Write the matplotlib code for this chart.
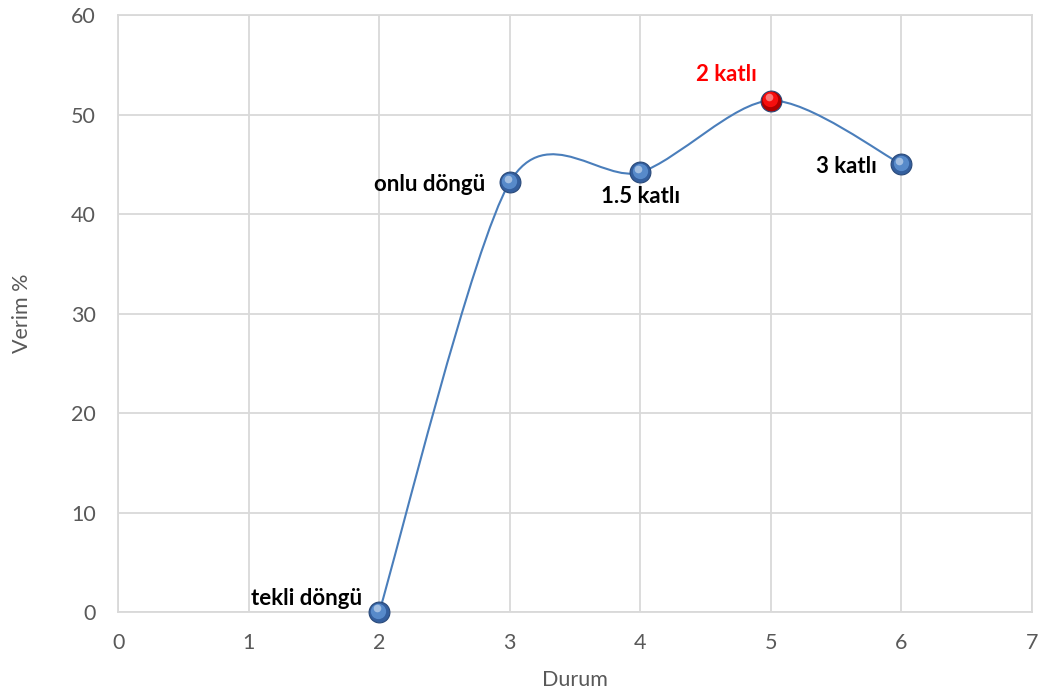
import matplotlib
matplotlib.use("Agg")
import matplotlib.pyplot as plt
import numpy as np
from matplotlib.path import Path
from matplotlib.patches import PathPatch
from matplotlib.transforms import offset_copy

# Data
durum = [2, 3, 4, 5, 6]
verim = [0.0, 43.2, 44.2, 51.4, 45.0]
labels = ["tekli döngü", "onlu döngü", "1.5 katlı", "2 katlı", "3 katlı"]
highlight = 3  # index of the red point

plt.rcParams['font.family'] = ['Lato', 'DejaVu Sans']

fig = plt.figure(figsize=(10.45, 6.95), dpi=100)
ax = fig.add_axes([0.113, 0.1194, 0.8746, 0.8590])

grid_c = "#d9d9d9"
ax.set_xlim(0, 7)
ax.set_ylim(0, 60)
ax.set_xticks(range(0, 8))
ax.set_yticks(range(0, 61, 10))
ax.grid(True, color=grid_c, linewidth=1.3)
ax.set_axisbelow(True)
for s in ax.spines.values():
    s.set_color(grid_c)
    s.set_linewidth(1.3)
ax.tick_params(length=0, colors="#595959", labelsize=15.5)
ax.tick_params(axis="x", pad=15)
ax.tick_params(axis="y", pad=16)
ax.set_xlabel("Durum", color="#595959", fontsize=15.5, labelpad=12)
ax.set_ylabel("Verim %", color="#595959", fontsize=15.5, labelpad=28)

# Smoothed line (cubic Bezier segments with Catmull-Rom style tangents)
pts = np.column_stack([durum, verim]).astype(float)
n = len(pts)
verts = [tuple(pts[0])]
codes = [Path.MOVETO]
k = 7.0
for i in range(n - 1):
    p0 = pts[i - 1] if i > 0 else pts[i]
    p1 = pts[i]
    p2 = pts[i + 1]
    p3 = pts[i + 2] if i + 2 < n else pts[i + 1]
    c1 = p1 + (p2 - p0) / k
    c2 = p2 - (p3 - p1) / k
    verts += [tuple(c1), tuple(c2), tuple(p2)]
    codes += [Path.CURVE4] * 3
ax.add_patch(PathPatch(Path(verts, codes), facecolor="none",
                       edgecolor="#4a7ebb", linewidth=1.5, zorder=3))

# Sphere-like markers
face = ["#b00000" if i == highlight else "#345f9e" for i in range(n)]
mid = ["#ff1010" if i == highlight else "#5b8fd0" for i in range(n)]
for i in range(n):
    ax.plot(durum[i], verim[i], "o", ms=15, mfc=face[i], mec="#2a4a7a",
            mew=0.8, zorder=4, clip_on=False)
    tr = offset_copy(ax.transData, fig=fig, x=-0.6, y=1.0, units="points")
    ax.plot(durum[i], verim[i], "o", ms=11, mfc=mid[i], mec="none",
            zorder=5, transform=tr, alpha=0.9, clip_on=False)
    tr2 = offset_copy(ax.transData, fig=fig, x=-1.5, y=2.6, units="points")
    ax.plot(durum[i], verim[i], "o", ms=5.5, mfc="white", mec="none",
            zorder=6, transform=tr2, alpha=0.45, clip_on=False)

# Point labels
offsets = [(-12, 10), (-18, -1.5), (0, -17.5), (-32, 19), (-18, -1.5)]
has = ["right", "right", "center", "center", "right"]
for i in range(n):
    ax.annotate(labels[i], (durum[i], verim[i]), xytext=offsets[i],
                textcoords="offset points", ha=has[i], va="center",
                fontsize=16, fontweight="bold",
                color="#ff0000" if i == highlight else "black", zorder=7)

fig.savefig("out.png", dpi=100)
